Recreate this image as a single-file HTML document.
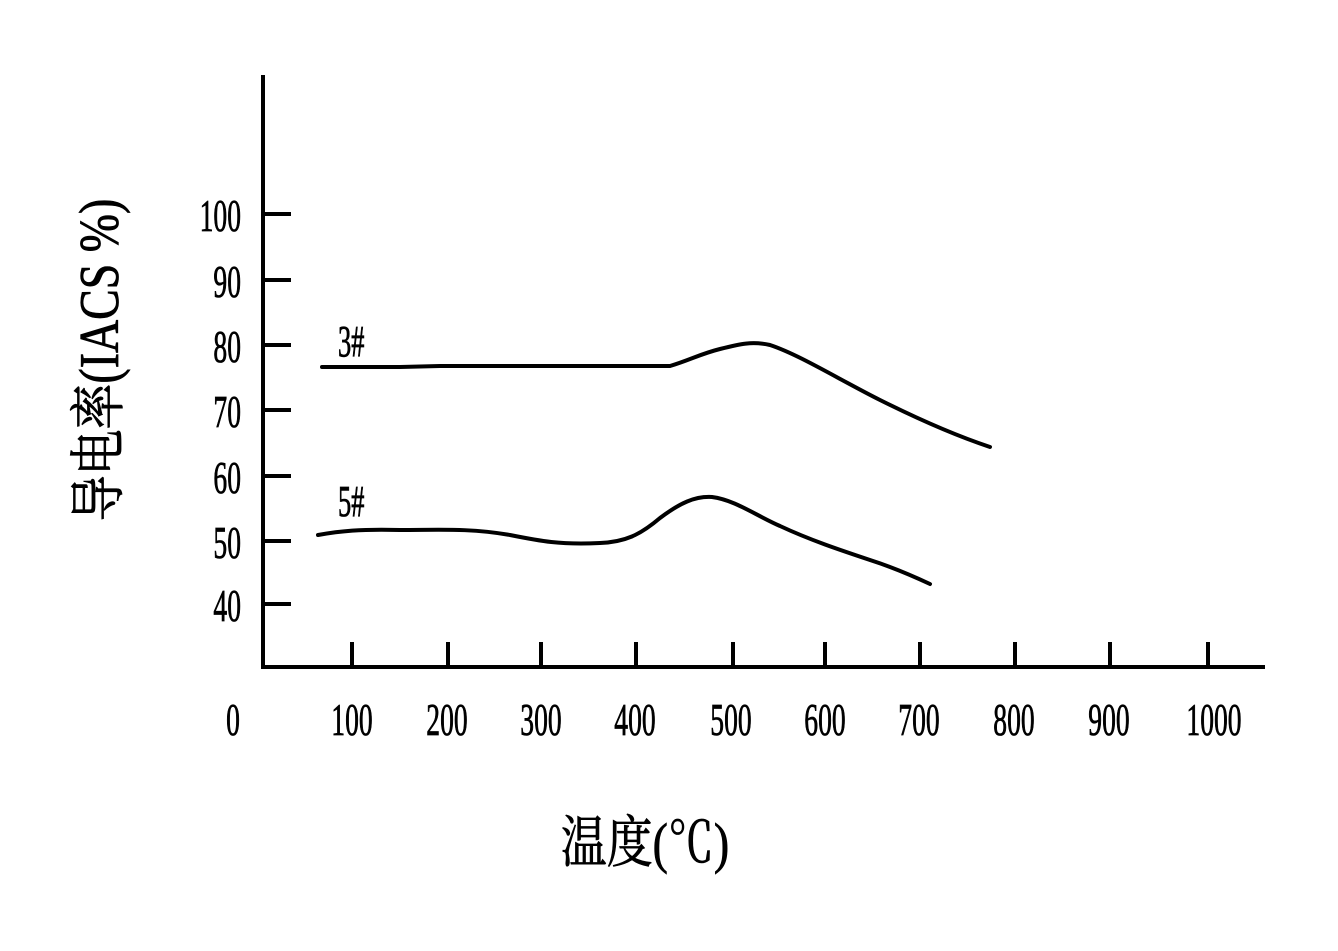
<!DOCTYPE html>
<html><head><meta charset="utf-8"><style>
html,body{margin:0;padding:0;background:#fff;}
svg text{font-family:"Liberation Serif","Noto Serif CJK SC",serif;fill:#000;stroke:#000;stroke-width:0.8;}
</style></head><body>
<svg width="1338" height="946" viewBox="0 0 1338 946" xmlns="http://www.w3.org/2000/svg">
<g stroke="#000" stroke-width="4" fill="none" stroke-linecap="butt">
<path d="M263 75 V669 M261 667 H1265"/>
<path d="M263 214 H291 M263 280 H291 M263 345 H291 M263 410 H291 M263 476 H291 M263 541 H291 M263 604 H291"/>
<path d="M352 642 V667 M448 642 V667 M541 642 V667 M636 642 V667 M733 642 V667 M825 642 V667 M920 642 V667 M1015 642 V667 M1110 642 V667 M1208 642 V667"/>
<path stroke-linecap="round" d="M322 367 L400 367 L440 366 L670 366 C690 360 700 354 720 349 C740 344 752 341 770 345 C800 355 840 380 880 400 C920 420 960 437 990 447"/>
<path stroke-linecap="round" d="M318 535 C340 531 360 529 400 530 C440 530 470 528 510 535 C540 541 560 545 600 543 C625 542 640 535 660 518 C680 503 695 496 712 497 C735 500 755 515 780 526 C810 540 840 550 870 560 C895 568 915 577 930 584"/>
</g>
<g font-size="46" text-anchor="end">
<text transform="translate(241,231) scale(0.6,1)">100</text>
<text transform="translate(241,297) scale(0.6,1)">90</text>
<text transform="translate(241,362) scale(0.6,1)">80</text>
<text transform="translate(241,427) scale(0.6,1)">70</text>
<text transform="translate(241,493) scale(0.6,1)">60</text>
<text transform="translate(241,558) scale(0.6,1)">50</text>
<text transform="translate(241,621) scale(0.6,1)">40</text>
</g>
<g font-size="46" text-anchor="middle">
<text transform="translate(233,735) scale(0.6,1)">0</text>
<text transform="translate(352,735) scale(0.6,1)">100</text>
<text transform="translate(447,735) scale(0.6,1)">200</text>
<text transform="translate(541,735) scale(0.6,1)">300</text>
<text transform="translate(635,735) scale(0.6,1)">400</text>
<text transform="translate(731,735) scale(0.6,1)">500</text>
<text transform="translate(825,735) scale(0.6,1)">600</text>
<text transform="translate(919,735) scale(0.6,1)">700</text>
<text transform="translate(1014,735) scale(0.6,1)">800</text>
<text transform="translate(1109,735) scale(0.6,1)">900</text>
<text transform="translate(1214,735) scale(0.6,1)">1000</text>
</g>
<text font-size="44" transform="translate(338,356) scale(0.6,1)">3#</text>
<text font-size="44" transform="translate(338,516) scale(0.6,1)">5#</text>
<text font-size="56" text-anchor="middle" transform="translate(645,862) scale(0.82,1)">温度(℃)</text>
<text font-size="56" text-anchor="middle" transform="translate(118,360) rotate(-90) scale(0.82,1)">导电率(IACS %)</text>
</svg>
</body></html>
